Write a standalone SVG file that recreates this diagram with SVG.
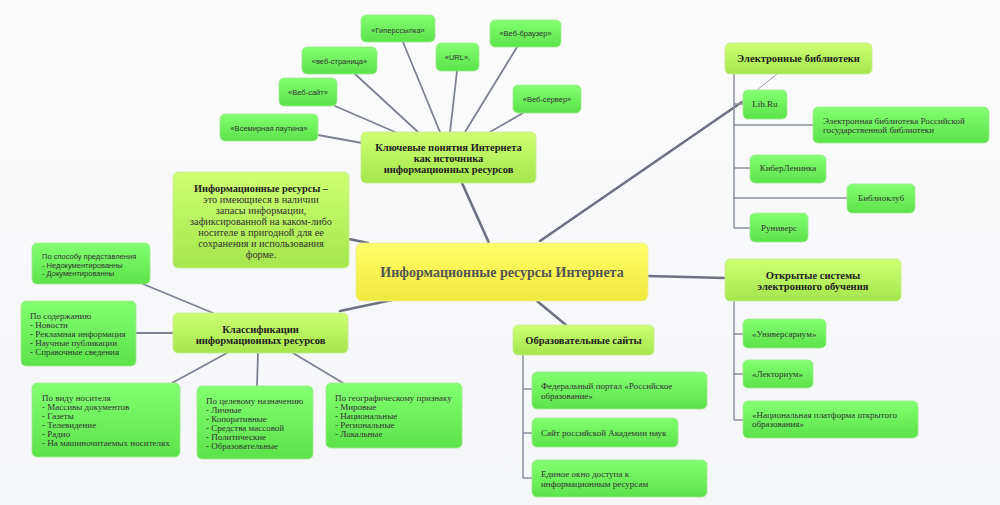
<svg xmlns="http://www.w3.org/2000/svg" width="1000" height="505" viewBox="0 0 1000 505">
<defs>
<linearGradient id="gGreen" x1="0" y1="0" x2="0" y2="1"><stop offset="0" stop-color="#84ff72"/><stop offset="1" stop-color="#5be24a"/></linearGradient>
<linearGradient id="gHead" x1="0" y1="0" x2="0" y2="1"><stop offset="0" stop-color="#cfff74"/><stop offset="1" stop-color="#a4e64c"/></linearGradient>
<linearGradient id="gCenter" x1="0" y1="0" x2="0" y2="1"><stop offset="0" stop-color="#ffff6a"/><stop offset="1" stop-color="#f0e83e"/></linearGradient>
<linearGradient id="gBg" x1="0" y1="0" x2="0" y2="1"><stop offset="0" stop-color="#fbfbfc"/><stop offset="1" stop-color="#f5f6f8"/></linearGradient>
</defs>
<style>
.g{fill:url(#gGreen);stroke:#9fe88f;stroke-width:0.8}
.h{fill:url(#gHead);stroke:#c4ec94;stroke-width:0.8}
.c{fill:url(#gCenter);stroke:#ecec9a;stroke-width:0.8}
.ln{stroke:#6c7282;stroke-width:2.6;stroke-linecap:round;fill:none}
.lt{stroke:#7c8292;stroke-width:1.8;stroke-linecap:round;fill:none}
.tr{stroke:#8a909e;stroke-width:1.5;fill:none}
.s{font-family:"Liberation Sans",Arial,sans-serif;font-size:7.5px;fill:#333}
.sc{font-family:"Liberation Sans",Arial,sans-serif;font-size:7.5px;fill:#333;text-anchor:middle}
.t{font-family:"Liberation Serif","Times New Roman",serif;font-size:9px;fill:#333}
.tc{font-family:"Liberation Serif","Times New Roman",serif;font-size:9px;fill:#333;text-anchor:middle}
.b{font-family:"Liberation Serif","Times New Roman",serif;font-size:10.5px;font-weight:bold;fill:#222;text-anchor:middle}
.d{font-family:"Liberation Serif","Times New Roman",serif;font-size:10.3px;fill:#333;text-anchor:middle}
.m{font-family:"Liberation Serif","Times New Roman",serif;font-size:14px;font-weight:bold;fill:#555;text-anchor:middle}
</style>
<rect width="1000" height="505" fill="url(#gBg)"/>
<g id="connectors">
<line class="lt" x1="318" y1="135" x2="362" y2="143"/>
<line class="lt" x1="335" y1="106" x2="395" y2="132"/>
<line class="lt" x1="355" y1="74" x2="418" y2="132"/>
<line class="lt" x1="403" y1="42" x2="440" y2="132"/>
<line class="lt" x1="457" y1="71" x2="450" y2="132"/>
<line class="lt" x1="517" y1="47" x2="465" y2="132"/>
<line class="lt" x1="523" y1="113" x2="490" y2="132"/>
<line class="ln" x1="462" y1="183" x2="489" y2="243"/>
<line class="ln" x1="349" y1="239" x2="368" y2="243"/>
<line class="ln" x1="340" y1="311" x2="392" y2="300"/>
<line class="ln" x1="540" y1="241" x2="742" y2="102"/>
<line x1="742" y1="102" x2="777" y2="74" stroke="#9aa0ae" stroke-width="1"/>
<line class="ln" x1="648" y1="276" x2="725" y2="278"/>
<line class="ln" x1="537" y1="301" x2="566" y2="325"/>
<line class="lt" x1="143" y1="284" x2="213" y2="313"/>
<line class="lt" x1="136" y1="333" x2="173" y2="333"/>
<line class="lt" x1="227" y1="353" x2="172" y2="383"/>
<line class="lt" x1="258" y1="353" x2="257" y2="386"/>
<line class="lt" x1="293" y1="353" x2="343" y2="383"/>
<path class="tr" d="M734,74 V228 M734,104 H743 M734,125 H813 M734,168 H750 M734,198 H847 M734,228 H750"/>
<path class="tr" d="M734,301 V420 M734,334 H743 M734,374 H743 M734,420 H743"/>
<path class="tr" d="M523,355 V478 M523,389 H532 M523,433 H532 M523,478 H532"/>
</g>
<g id="n-hyperlink"><rect class="g" x="361" y="15" width="74" height="27" rx="5"/><text class="sc" x="398" y="32.5">«Гиперссылка»</text></g>
<g id="n-url"><rect class="g" x="436" y="43" width="43" height="28" rx="5"/><text class="sc" x="457.5" y="60">«URL»,</text></g>
<g id="n-browser"><rect class="g" x="490" y="20" width="71" height="27" rx="5"/><text class="sc" x="525.5" y="36">«Веб-браузер»</text></g>
<g id="n-webpage"><rect class="g" x="302" y="47" width="75" height="27" rx="5"/><text class="sc" x="339.5" y="63.5">«веб-страница»</text></g>
<g id="n-website"><rect class="g" x="279" y="78" width="58" height="28" rx="5"/><text class="sc" x="308" y="94.5">«Веб-сайт»</text></g>
<g id="n-server"><rect class="g" x="513" y="85" width="68" height="28" rx="5"/><text class="sc" x="547" y="101.5">«Веб-сервер»</text></g>
<g id="n-www"><rect class="g" x="220" y="114" width="98" height="27" rx="5"/><text class="sc" x="269" y="130.5">«Всемирная паутина»</text></g>
<g id="n-key"><rect class="h" x="361" y="132" width="175" height="51" rx="5"/><text class="b"><tspan x="448.5" y="151">Ключевые понятия Интернета</tspan><tspan x="448.5" y="162">как источника</tspan><tspan x="448.5" y="173">информационных ресурсов</tspan></text></g>
<g id="n-def"><rect class="h" x="173" y="172" width="176" height="96" rx="5"/><text class="d"><tspan x="261" y="191.5" font-weight="bold" fill="#222">Информационные ресурсы –</tspan><tspan x="261" y="202.5">это имеющиеся в наличии</tspan><tspan x="261" y="213.5">запасы информации,</tspan><tspan x="261" y="224.5">зафиксированной на каком-либо</tspan><tspan x="261" y="235.5">носителе в пригодной для ее</tspan><tspan x="261" y="246.5">сохранения и использования</tspan><tspan x="261" y="257.5">форме.</tspan></text></g>
<g id="n-center"><rect class="c" x="356" y="243" width="292" height="58" rx="6"/><text class="m" x="502" y="277">Информационные ресурсы Интернета</text></g>
<g id="n-sposob"><rect class="g" x="32" y="243" width="118" height="41" rx="5"/><text class="s"><tspan x="42" y="259">По способу представления</tspan><tspan x="42" y="267.5">- Недокументированны</tspan><tspan x="42" y="276">- Документированны</tspan></text></g>
<g id="n-content"><rect class="g" x="21" y="301" width="115" height="65" rx="5"/><text class="t"><tspan x="30" y="319">По содержанию</tspan><tspan x="30" y="328">- Новости</tspan><tspan x="30" y="337">- Рекламная информация</tspan><tspan x="30" y="346">- Научные публикации</tspan><tspan x="30" y="355">- Справочные сведения</tspan></text></g>
<g id="n-class"><rect class="h" x="173" y="313" width="175" height="40" rx="5"/><text class="b"><tspan x="260.5" y="333">Классификации</tspan><tspan x="260.5" y="344">информационных ресурсов</tspan></text></g>
<g id="n-carrier"><rect class="g" x="32" y="383" width="148" height="74" rx="5"/><text class="t"><tspan x="42" y="401">По виду носителя</tspan><tspan x="42" y="410">- Массивы документов</tspan><tspan x="42" y="419">- Газеты</tspan><tspan x="42" y="428">- Телевидение</tspan><tspan x="42" y="437">- Радио</tspan><tspan x="42" y="446">- На машиночитаемых носителях</tspan></text></g>
<g id="n-purpose"><rect class="g" x="197" y="386" width="116" height="73" rx="5"/><text class="t"><tspan x="206" y="404">По целевому назначению</tspan><tspan x="206" y="413">- Личные</tspan><tspan x="206" y="422">- Копоративные</tspan><tspan x="206" y="431">- Средства массовой</tspan><tspan x="206" y="440">- Политические</tspan><tspan x="206" y="449">- Образовательные</tspan></text></g>
<g id="n-geo"><rect class="g" x="326" y="383" width="136" height="65" rx="5"/><text class="t"><tspan x="335" y="401">По географическому признаку</tspan><tspan x="335" y="410">- Мировые</tspan><tspan x="335" y="419">- Национальные</tspan><tspan x="335" y="428">- Региональные</tspan><tspan x="335" y="437">- Локальные</tspan></text></g>
<g id="n-elib"><rect class="h" x="725" y="43" width="147" height="31" rx="5"/><text class="b" x="798.5" y="62">Электронные библиотеки</text></g>
<g id="n-libru"><rect class="g" x="743" y="90" width="44" height="29" rx="5"/><text class="tc" x="765" y="107">Lib.Ru</text></g>
<g id="n-rgb"><rect class="g" x="813" y="107" width="176" height="36" rx="5"/><text class="t"><tspan x="823" y="124">Электронная библиотека Российской</tspan><tspan x="823" y="133">государственной библиотеки</tspan></text></g>
<g id="n-cyber"><rect class="g" x="750" y="155" width="76" height="28" rx="5"/><text class="tc" x="788" y="171">КиберЛенинка</text></g>
<g id="n-biblio"><rect class="g" x="847" y="184" width="68" height="29" rx="5"/><text class="tc" x="881" y="201">Библиоклуб</text></g>
<g id="n-runivers"><rect class="g" x="750" y="213" width="58" height="29" rx="5"/><text class="tc" x="779" y="231">Руниверс</text></g>
<g id="n-open"><rect class="h" x="725" y="259" width="176" height="42" rx="5"/><text class="b"><tspan x="813" y="279">Открытые системы</tspan><tspan x="813" y="290">электронного обучения</tspan></text></g>
<g id="n-univers"><rect class="g" x="743" y="319" width="83" height="29" rx="5"/><text class="t" x="752" y="337">«Универсариум»</text></g>
<g id="n-lector"><rect class="g" x="743" y="360" width="70" height="28" rx="5"/><text class="t" x="752" y="377">«Лекториум»</text></g>
<g id="n-npoo"><rect class="g" x="743" y="401" width="175" height="37" rx="5"/><text class="t"><tspan x="752" y="418">«Национальная платформа открытого</tspan><tspan x="752" y="427">образования»</tspan></text></g>
<g id="n-edu"><rect class="h" x="513" y="325" width="141" height="30" rx="5"/><text class="b" x="583.5" y="344">Образовательные сайты</text></g>
<g id="n-portal"><rect class="g" x="532" y="372" width="175" height="37" rx="5"/><text class="t"><tspan x="541" y="389">Федеральный портал «Российское</tspan><tspan x="541" y="399">образование»</tspan></text></g>
<g id="n-ran"><rect class="g" x="532" y="418" width="146" height="29" rx="5"/><text class="t" x="541" y="436">Сайт российской Академии наук</text></g>
<g id="n-window"><rect class="g" x="532" y="460" width="175" height="37" rx="5"/><text class="t"><tspan x="541" y="477">Единое окно доступа к</tspan><tspan x="541" y="487">информационным ресурсам</tspan></text></g>
</svg>
